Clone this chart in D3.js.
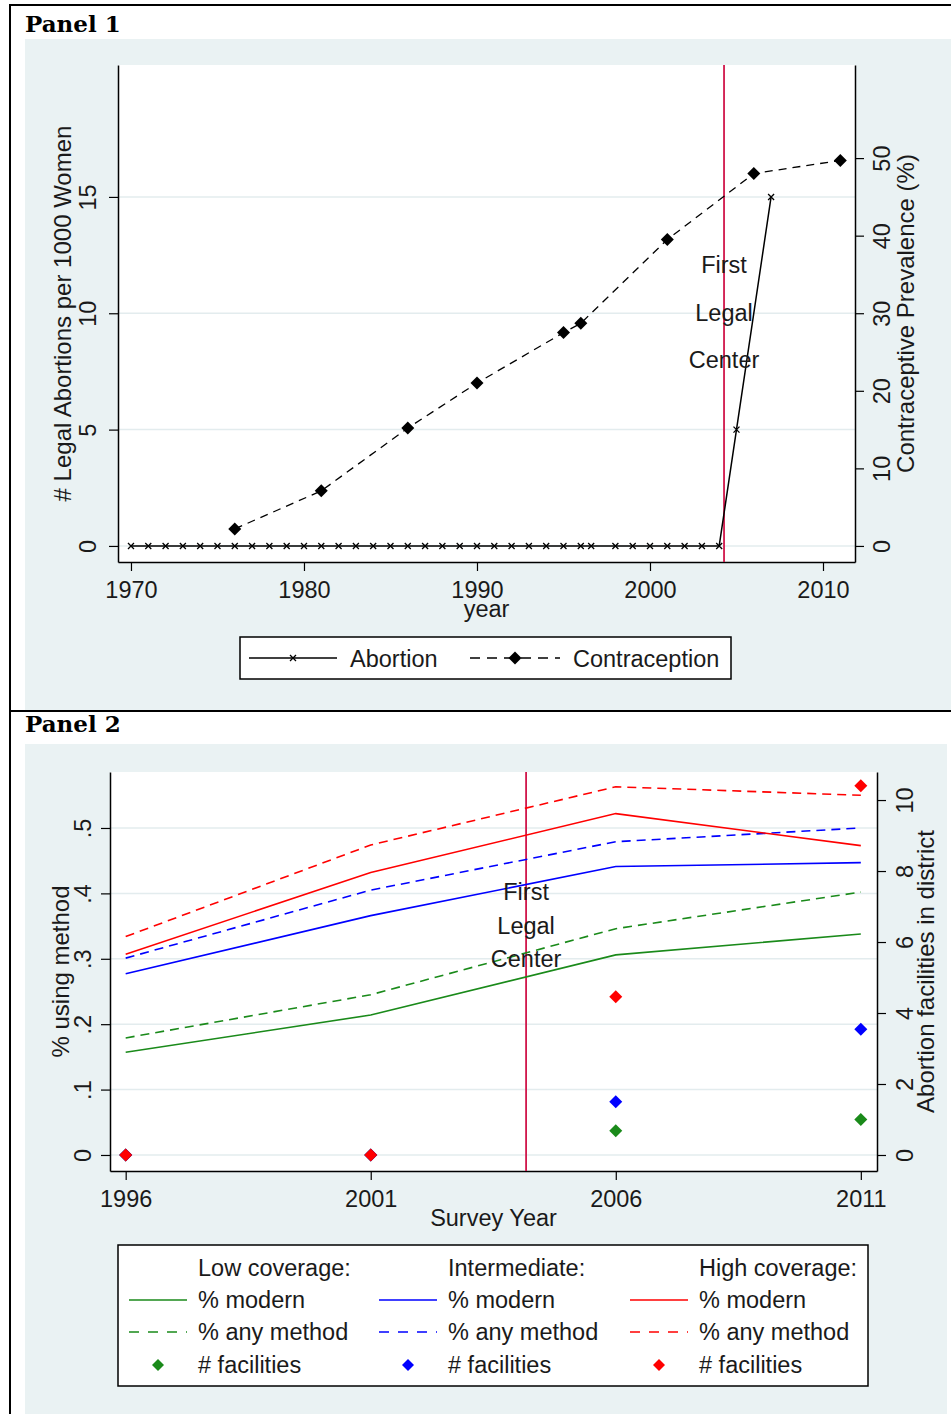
<!DOCTYPE html>
<html>
<head>
<meta charset="utf-8">
<title>Abortion and contraception</title>
<script src="https://d3js.org/d3.v7.min.js"></script>
<style>body{margin:0;padding:0;background:#fff}</style>
</head>
<body>
<div id="chart"></div>
<script>
// ---- panel 1 data
var abortYears = [1970,1971,1972,1973,1974,1975,1976,1977,1978,1979,1980,1981,1982,1983,1984,1985,1986,1987,1988,1989,
                  1990,1991,1992,1993,1994,1995,1996,1996.6,1998,1999,2000,2001,2002,2003,2004,2005,2007]
var abortRate  = [0,0,0,0,0,0,0,0,0,0,0,0,0,0,0,0,0,0,0,0,
                  0,0,0,0,0,0,0,0,0,0,0,0,0,0,0,5,15]
var contraYears = [1976,1981,1986,1990,1995,1996,2001,2006,2011]
var contraPrev  = [2.2,7.1,15.2,21.0,27.5,28.7,39.5,48.0,49.7]
var p1XTicks = [1970,1980,1990,2000,2010]
var p1LeftTicks = [0,5,10,15]
var p1RightTicks = [0,10,20,30,40,50]
var p1Legend = ['Abortion','Contraception']
var firstCenterYear1 = 2004.28

// ---- panel 2 data
var surveyYears = [1996,2001,2006,2011]
var lowModern  = [0.157,0.214,0.306,0.338]
var lowAny     = [0.179,0.245,0.346,0.402]
var midModern  = [0.277,0.366,0.441,0.447]
var midAny     = [0.301,0.405,0.479,0.500]
var highModern = [0.307,0.432,0.522,0.473]
var highAny    = [0.334,0.474,0.563,0.550]
var lowFac  = [0,0,0.68,1.0]
var midFac  = [0,0,1.5,3.54]
var highFac = [0,0,4.46,10.4]
var p2XTicks = [1996,2001,2006,2011]
var p2LeftTicks = [0,0.1,0.2,0.3,0.4,0.5]
var p2LeftLabels = ['0','.1','.2','.3','.4','.5']
var p2RightTicks = [0,2,4,6,8,10]
var coverageGroups = ['Low coverage:','Intermediate:','High coverage:']
var legendRows = ['% modern','% any method','# facilities']
var firstCenterYear2 = 2004.17

var font = "'Liberation Sans', Arial, sans-serif"
var ink = '#1a1a1a'
var back_colour = '#eaf2f3'
var center_colour = '#d0164a'
var groupColours = ['#1a8a1a','#0000ff','#ff0000']
var fs = 23.5
var title_fs = 24

var svg = d3.select('#chart').append('svg').attr('width', 951).attr('height', 1414).style('display','block')

// page frame and grey regions
svg.append('rect').attr('x',25).attr('y',39).attr('width',926).attr('height',671).attr('fill',back_colour)
svg.append('rect').attr('x',25).attr('y',744).attr('width',922).attr('height',670).attr('fill',back_colour)
svg.append('line').attr('x1',10).attr('x2',951).attr('y1',5).attr('y2',5).style('stroke','#000').style('stroke-width',2)
svg.append('line').attr('x1',10).attr('x2',10).attr('y1',4).attr('y2',1414).style('stroke','#000').style('stroke-width',2)
svg.append('line').attr('x1',10).attr('x2',951).attr('y1',711).attr('y2',711).style('stroke','#000').style('stroke-width',2)

svg.selectAll('.panel_label').data([['Panel 1',32],['Panel 2',732]]).enter()
  .append('text')
  .text(d => d[0])
  .attr('x', 25)
  .attr('y', d => d[1])
  .attr('font-family', "'DejaVu Serif', serif")
  .attr('font-weight', 'bold')
  .attr('font-size', 23)
  .style('fill', '#000')

function diamond(r) { return 'M0,' + (-r) + 'L' + r + ',0L0,' + r + 'L' + (-r) + ',0Z' }

// axis helpers: stata style vertical labels
function styleAxis(g) {
  g.attr('font-family', font).attr('font-size', fs)
  g.select('.domain').style('stroke', '#000').style('stroke-width', 1.5)
  g.selectAll('.tick line').style('stroke', '#000').style('stroke-width', 1.2)
  g.selectAll('.tick text').style('fill', ink)
}
function vertLabels(g, off) {
  g.selectAll('.tick text')
    .attr('x', 0).attr('y', 0).attr('dy', null)
    .attr('text-anchor', 'middle')
    .attr('transform', 'translate(' + off + ',0) rotate(-90)')
}
function bottomLabels(g) {
  g.selectAll('.tick text').attr('y', 36).attr('dy', null)
}
function rotTitle(text, x, y) {
  svg.append('text').text(text)
    .attr('transform', 'translate(' + x + ',' + y + ') rotate(-90)')
    .attr('text-anchor', 'middle')
    .attr('font-family', font).attr('font-size', title_fs)
    .style('fill', ink)
}
function plainText(text, x, y, anchor) {
  svg.append('text').text(text)
    .attr('x', x).attr('y', y)
    .attr('text-anchor', anchor || 'start')
    .attr('font-family', font).attr('font-size', fs)
    .style('fill', ink)
}

// ================= PANEL 1 =================
var p1 = {l:118, r:855, t:65, b:562}
svg.append('rect').attr('x',p1.l).attr('y',p1.t).attr('width',p1.r-p1.l).attr('height',p1.b-p1.t).attr('fill','#fff')

var x1 = d3.scaleLinear().domain([1969.25, 2011.85]).range([p1.l, p1.r])
var yL1 = d3.scaleLinear().domain([-0.69, 20.67]).range([p1.b, p1.t])
var yR1 = d3.scaleLinear().domain([-2.07, 62.0]).range([p1.b, p1.t])

svg.selectAll('.grid1').data(p1LeftTicks).enter().append('line')
  .attr('x1', p1.l).attr('x2', p1.r)
  .attr('y1', d => yL1(d)).attr('y2', d => yL1(d))
  .style('stroke', '#e3ecee').style('stroke-width', 1.5)

var gL1 = svg.append('g').attr('transform','translate(' + p1.l + ',0)')
  .call(d3.axisLeft(yL1).tickValues(p1LeftTicks).tickSize(9).tickSizeOuter(0))
styleAxis(gL1); vertLabels(gL1, -22)

var gR1 = svg.append('g').attr('transform','translate(' + p1.r + ',0)')
  .call(d3.axisRight(yR1).tickValues(p1RightTicks).tickSize(9).tickSizeOuter(0))
styleAxis(gR1); vertLabels(gR1, 35)

var gB1 = svg.append('g').attr('transform','translate(0,' + p1.b + ')')
  .call(d3.axisBottom(x1).tickValues(p1XTicks).tickFormat(d3.format('d')).tickSize(9).tickSizeOuter(0))
styleAxis(gB1); bottomLabels(gB1)

svg.append('line')
  .attr('x1', x1(firstCenterYear1)).attr('x2', x1(firstCenterYear1))
  .attr('y1', p1.t).attr('y2', p1.b)
  .style('stroke', center_colour).style('stroke-width', 1.8)

var abortData = abortYears.map((y,i) => [y, abortRate[i]])
var contraData = contraYears.map((y,i) => [y, contraPrev[i]])

svg.append('path').datum(contraData)
  .attr('d', d3.line().x(d => x1(d[0])).y(d => yR1(d[1])))
  .style('fill','none').style('stroke','#000').style('stroke-width',1.3).style('stroke-dasharray','8,6')

svg.append('path').datum(abortData)
  .attr('d', d3.line().x(d => x1(d[0])).y(d => yL1(d[1])))
  .style('fill','none').style('stroke','#000').style('stroke-width',1.5)

svg.selectAll('.abx').data(abortData).enter().append('path')
  .attr('transform', d => 'translate(' + x1(d[0]) + ',' + yL1(d[1]) + ')')
  .attr('d', 'M-3,-3L3,3M-3,3L3,-3')
  .style('stroke','#000').style('stroke-width',1.3)

svg.selectAll('.cdm').data(contraData).enter().append('path')
  .attr('transform', d => 'translate(' + x1(d[0]) + ',' + yR1(d[1]) + ')')
  .attr('d', diamond(6.5))
  .style('fill','#000')

;['First','Legal','Center'].forEach((w,i) => {
  plainText(w, x1(firstCenterYear1), 273 + i*47.5, 'middle')
})

rotTitle('# Legal Abortions per 1000 Women', 71, (p1.t+p1.b)/2)
rotTitle('Contraceptive Prevalence (%)', 914, (p1.t+p1.b)/2)
plainText('year', (p1.l+p1.r)/2, 617, 'middle')

// legend panel 1
svg.append('rect').attr('x',240).attr('y',637).attr('width',491).attr('height',42)
  .attr('fill','#fff').style('stroke','#000').style('stroke-width',1.5)
svg.append('line').attr('x1',249).attr('x2',337).attr('y1',658).attr('y2',658).style('stroke','#000').style('stroke-width',1.5)
svg.append('path').attr('transform','translate(293,658)').attr('d','M-3,-3L3,3M-3,3L3,-3').style('stroke','#000').style('stroke-width',1.3)
plainText(p1Legend[0], 350, 667)
svg.append('line').attr('x1',470).attr('x2',560).attr('y1',658).attr('y2',658).style('stroke','#000').style('stroke-width',1.3).style('stroke-dasharray','10,7')
svg.append('path').attr('transform','translate(515,658)').attr('d',diamond(6.5)).style('fill','#000')
plainText(p1Legend[1], 573, 667)

// ================= PANEL 2 =================
var p2 = {l:110, r:877, t:772, b:1171}
svg.append('rect').attr('x',p2.l).attr('y',p2.t).attr('width',p2.r-p2.l).attr('height',p2.b-p2.t).attr('fill','#fff')

var x2 = d3.scaleLinear().domain([1995.68, 2011.33]).range([p2.l, p2.r])
var yL2 = d3.scaleLinear().domain([-0.0245, 0.5856]).range([p2.b, p2.t])
var yR2 = d3.scaleLinear().domain([-0.451, 10.79]).range([p2.b, p2.t])

svg.selectAll('.grid2').data(p2LeftTicks).enter().append('line')
  .attr('x1', p2.l).attr('x2', p2.r)
  .attr('y1', d => yL2(d)).attr('y2', d => yL2(d))
  .style('stroke', '#e3ecee').style('stroke-width', 1.5)

var gL2 = svg.append('g').attr('transform','translate(' + p2.l + ',0)')
  .call(d3.axisLeft(yL2).tickValues(p2LeftTicks).tickFormat((d,i) => p2LeftLabels[i]).tickSize(9).tickSizeOuter(0))
styleAxis(gL2); vertLabels(gL2, -19)

var gR2 = svg.append('g').attr('transform','translate(' + p2.r + ',0)')
  .call(d3.axisRight(yR2).tickValues(p2RightTicks).tickSize(9).tickSizeOuter(0))
styleAxis(gR2); vertLabels(gR2, 36)

var gB2 = svg.append('g').attr('transform','translate(0,' + p2.b + ')')
  .call(d3.axisBottom(x2).tickValues(p2XTicks).tickFormat(d3.format('d')).tickSize(9).tickSizeOuter(0))
styleAxis(gB2); bottomLabels(gB2)

svg.append('line')
  .attr('x1', x2(firstCenterYear2)).attr('x2', x2(firstCenterYear2))
  .attr('y1', p2.t).attr('y2', p2.b)
  .style('stroke', center_colour).style('stroke-width', 1.8)

var series = [
  {v: lowModern,  c: 0, dash: null},
  {v: lowAny,     c: 0, dash: '9,6'},
  {v: midModern,  c: 1, dash: null},
  {v: midAny,     c: 1, dash: '9,6'},
  {v: highModern, c: 2, dash: null},
  {v: highAny,    c: 2, dash: '9,6'}
]
var line2 = d3.line().x(d => x2(d[0])).y(d => yL2(d[1]))
series.forEach(s => {
  svg.append('path').datum(surveyYears.map((y,i) => [y, s.v[i]]))
    .attr('d', line2)
    .style('fill','none').style('stroke', groupColours[s.c]).style('stroke-width',1.6)
    .style('stroke-dasharray', s.dash)
})

;[lowFac, midFac, highFac].forEach((f,c) => {
  svg.selectAll('.fac' + c).data(surveyYears.map((y,i) => [y, f[i]])).enter().append('path')
    .attr('transform', d => 'translate(' + x2(d[0]) + ',' + yR2(d[1]) + ')')
    .attr('d', diamond(6.5))
    .style('fill', groupColours[c])
})

;['First','Legal','Center'].forEach((w,i) => {
  plainText(w, x2(firstCenterYear2), 900 + i*33.5, 'middle')
})

rotTitle('% using method', 69, (p2.t+p2.b)/2)
rotTitle('Abortion facilities in district', 934, (p2.t+p2.b)/2)
plainText('Survey Year', (p2.l+p2.r)/2, 1226, 'middle')

// legend panel 2
svg.append('rect').attr('x',118).attr('y',1245).attr('width',750).attr('height',141)
  .attr('fill','#fff').style('stroke','#000').style('stroke-width',1.5)
var colX = [129, 379, 630]
coverageGroups.forEach((g,c) => {
  var x0 = colX[c]
  plainText(g, x0 + 69, 1276)
  svg.append('line').attr('x1',x0).attr('x2',x0+58).attr('y1',1300).attr('y2',1300)
    .style('stroke',groupColours[c]).style('stroke-width',1.6)
  plainText(legendRows[0], x0 + 69, 1308)
  svg.append('line').attr('x1',x0).attr('x2',x0+58).attr('y1',1332).attr('y2',1332)
    .style('stroke',groupColours[c]).style('stroke-width',1.6).style('stroke-dasharray','10,9')
  plainText(legendRows[1], x0 + 69, 1340)
  svg.append('path').attr('transform','translate(' + (x0+29) + ',1365)').attr('d',diamond(6))
    .style('fill',groupColours[c])
  plainText(legendRows[2], x0 + 69, 1373)
})
</script>
</body>
</html>
